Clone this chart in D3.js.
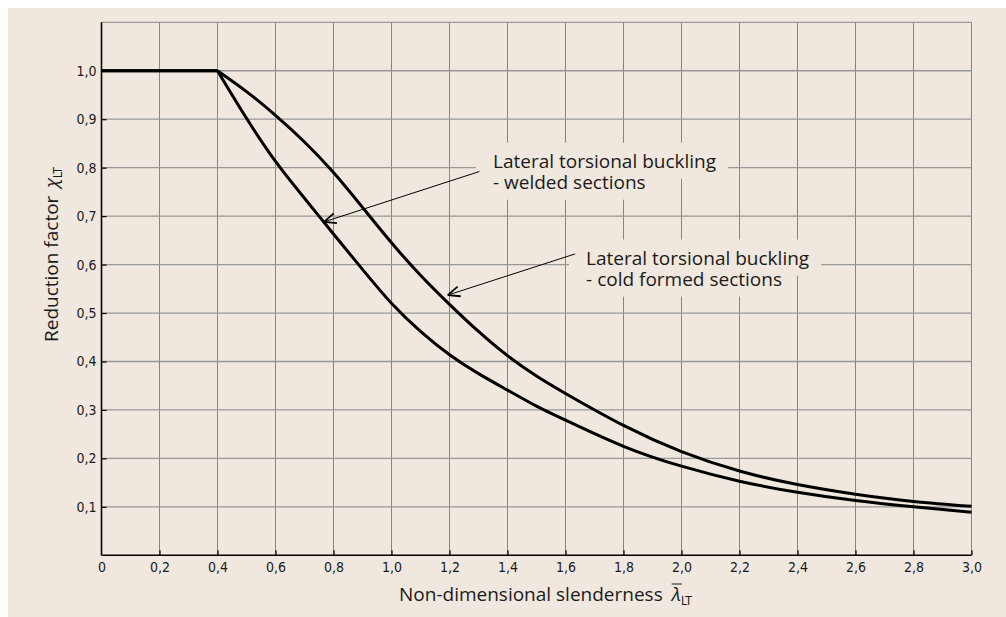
<!DOCTYPE html>
<html lang="en">
<head>
  <meta charset="UTF-8">
  <title>Reduction factor for lateral torsional buckling</title>
  <script src="https://d3js.org/d3.v7.min.js"></script>
  <style>
    body { margin: 0; background: #fff; }
    .grid line { stroke: #858585; stroke-width: 1px; }
    .grid .h { stroke: #979797; stroke-width: 1.3px; }
    .tick text {
      font-family: "Liberation Sans Narrow", "DejaVu Sans Condensed", sans-serif;
      font-stretch: condensed;
      font-size: 14px;
      fill: #1a1a1a;
    }
    .label {
      font-family: "Open Sans", "Noto Sans", sans-serif;
      font-size: 19px;
      fill: #1a1a1a;
    }
    .curve { fill: none; stroke: #000; stroke-width: 3px; stroke-linejoin: round; }
    .arrow { stroke: #000; stroke-width: 1px; fill: none; }
  </style>
</head>
<body>
<svg width="1006" height="617" id="chart"></svg>

<script>
  // values
  const lambdaVals = [0, 0.4, 0.5, 0.6, 0.7, 0.8, 0.9, 1.0, 1.1, 1.2, 1.3, 1.4, 1.5, 1.6, 1.8, 2.0, 2.2, 2.4, 2.6, 2.8, 3.0];
  const welded = [1.0, 1.0, 0.902, 0.813, 0.737, 0.663, 0.590, 0.520, 0.462, 0.414, 0.375, 0.341, 0.308, 0.279, 0.225, 0.184, 0.153, 0.130, 0.113, 0.100, 0.089];
  const coldFormed = [1.0, 1.0, 0.957, 0.908, 0.853, 0.790, 0.718, 0.645, 0.578, 0.518, 0.462, 0.412, 0.370, 0.334, 0.268, 0.214, 0.174, 0.146, 0.126, 0.111, 0.101];

  const xTicks = [0, 0.2, 0.4, 0.6, 0.8, 1.0, 1.2, 1.4, 1.6, 1.8, 2.0, 2.2, 2.4, 2.6, 2.8, 3.0];
  const xTickLabels = ['0', '0,2', '0,4', '0,6', '0,8', '1,0', '1,2', '1,4', '1,6', '1,8', '2,0', '2,2', '2,4', '2,6', '2,8', '3,0'];
  const yTicks = [0.1, 0.2, 0.3, 0.4, 0.5, 0.6, 0.7, 0.8, 0.9, 1.0];
  const yTickLabels = ['0,1', '0,2', '0,3', '0,4', '0,5', '0,6', '0,7', '0,8', '0,9', '1,0'];

  const notes = [
    { lines: ['Lateral torsional buckling', '- welded sections'], x: 1.35, y: 0.8, from: [1.303, 0.792], to: [0.767, 0.688] },
    { lines: ['Lateral torsional buckling', '- cold formed sections'], x: 1.671, y: 0.6, from: [1.633, 0.622], to: [1.194, 0.537] }
  ];

  const margin = { left: 101.5, top: 22.3 };
  const width = 870, height = 533;

  const svg = d3.select('#chart');
  svg.append('rect').attr('x', 8).attr('y', 8).attr('width', 998).attr('height', 609).attr('fill', '#f0e8de');

  const g = svg.append('g').attr('transform', `translate(${margin.left},${margin.top})`);

  const x = d3.scaleLinear().domain([0, 3]).range([0, width]);
  const y = d3.scaleLinear().domain([0, 1.1]).range([height, 0]);

  // grid
  const grid = g.append('g').attr('class', 'grid');
  grid.selectAll('.v').data(xTicks.slice(1)).enter().append('line')
    .attr('class', 'v')
    .attr('x1', d => x(d)).attr('x2', d => x(d))
    .attr('y1', y(1.1)).attr('y2', y(0));
  grid.selectAll('.h').data(yTicks.concat([1.1])).enter().append('line')
    .attr('class', 'h')
    .attr('x1', 0).attr('x2', width)
    .attr('y1', d => y(d)).attr('y2', d => y(d));

  // masks behind annotation text
  const maskLayer = g.append('g');

  // axes
  const xAxis = d3.axisBottom(x).tickValues(xTicks).tickSize(-5).tickPadding(7)
    .tickFormat((d, i) => xTickLabels[i]);
  const yAxis = d3.axisLeft(y).tickValues(yTicks).tickSize(-5).tickPadding(5)
    .tickFormat((d, i) => yTickLabels[i]);

  const gx = g.append('g').attr('transform', `translate(0,${height})`).call(xAxis);
  const gy = g.append('g').call(yAxis);
  [gx, gy].forEach(a => {
    a.select('.domain').attr('stroke', '#000').attr('stroke-width', 1.6);
    a.selectAll('.tick line').attr('stroke', '#000').attr('stroke-width', 1.2);
  });
  gx.select('.domain').attr('d', `M0,0H${width}`);
  gy.select('.domain').attr('d', `M0,${height}V${y(1.1)}`);
  gx.selectAll('.tick').filter(d => d === 0).select('line').remove();

  // curves: flat part straight, then smooth
  const line = d3.line().x(d => x(d[0])).y(d => y(d[1]));
  const smooth = d3.line().x(d => x(d[0])).y(d => y(d[1])).curve(d3.curveNatural);
  [welded, coldFormed].forEach(series => {
    const pts = lambdaVals.map((l, i) => [l, series[i]]);
    g.append('path').attr('class', 'curve').attr('d', line(pts.slice(0, 2)));
    g.append('path').attr('class', 'curve').attr('d', smooth(pts.slice(1)));
  });

  // annotations
  notes.forEach(n => {
    const t = g.append('text').attr('class', 'label')
      .attr('x', x(n.x)).attr('y', y(n.y));
    n.lines.forEach((s, i) => {
      t.append('tspan').attr('x', x(n.x)).attr('dy', i === 0 ? 0 : 21).text(s);
    });
    t.selectAll('tspan').each(function() {
      const b = this.getBBox();
      maskLayer.append('rect')
        .attr('x', b.x - 17).attr('y', b.y - 5)
        .attr('width', b.width + 29).attr('height', b.height + 10)
        .attr('fill', '#f0e8de');
    });

    const x1 = x(n.from[0]), y1 = y(n.from[1]);
    const x2 = x(n.to[0]), y2 = y(n.to[1]);
    const ang = Math.atan2(y2 - y1, x2 - x1);
    g.append('line').attr('class', 'arrow')
      .attr('x1', x1).attr('y1', y1).attr('x2', x2).attr('y2', y2);
    const head = d3.path();
    [-0.4, 0.4].forEach(da => {
      head.moveTo(x2, y2);
      head.lineTo(x2 - 13 * Math.cos(ang + da), y2 - 13 * Math.sin(ang + da));
    });
    g.append('path').attr('d', head.toString())
      .attr('stroke', '#000').attr('stroke-width', 1.8).attr('fill', 'none');
  });

  // axis titles
  const subFont = '"Liberation Sans Narrow", "DejaVu Sans Condensed", sans-serif';
  const xt = svg.append('text').attr('class', 'label').attr('x', 399).attr('y', 601);
  xt.append('tspan').text('Non-dimensional slenderness ');
  const lamSpan = xt.append('tspan').attr('font-style', 'italic').attr('dx', 4).text('λ');
  xt.append('tspan').attr('font-size', 12).attr('dy', 4).style('font-family', subFont).text('LT');
  const lb = lamSpan.node().getBBox();
  svg.append('line').attr('x1', lb.x + 2).attr('x2', lb.x + lb.width + 1)
    .attr('y1', lb.y + 3).attr('y2', lb.y + 3).attr('stroke', '#1a1a1a').attr('stroke-width', 1);

  const yt = svg.append('text').attr('class', 'label')
    .attr('transform', 'translate(58,342) rotate(-90)');
  yt.append('tspan').text('Reduction factor ');
  yt.append('tspan').attr('font-style', 'italic').attr('dx', 3).text('χ');
  yt.append('tspan').attr('font-size', 12).attr('dy', 4).style('font-family', subFont).text('LT');
</script>
</body>
</html>
